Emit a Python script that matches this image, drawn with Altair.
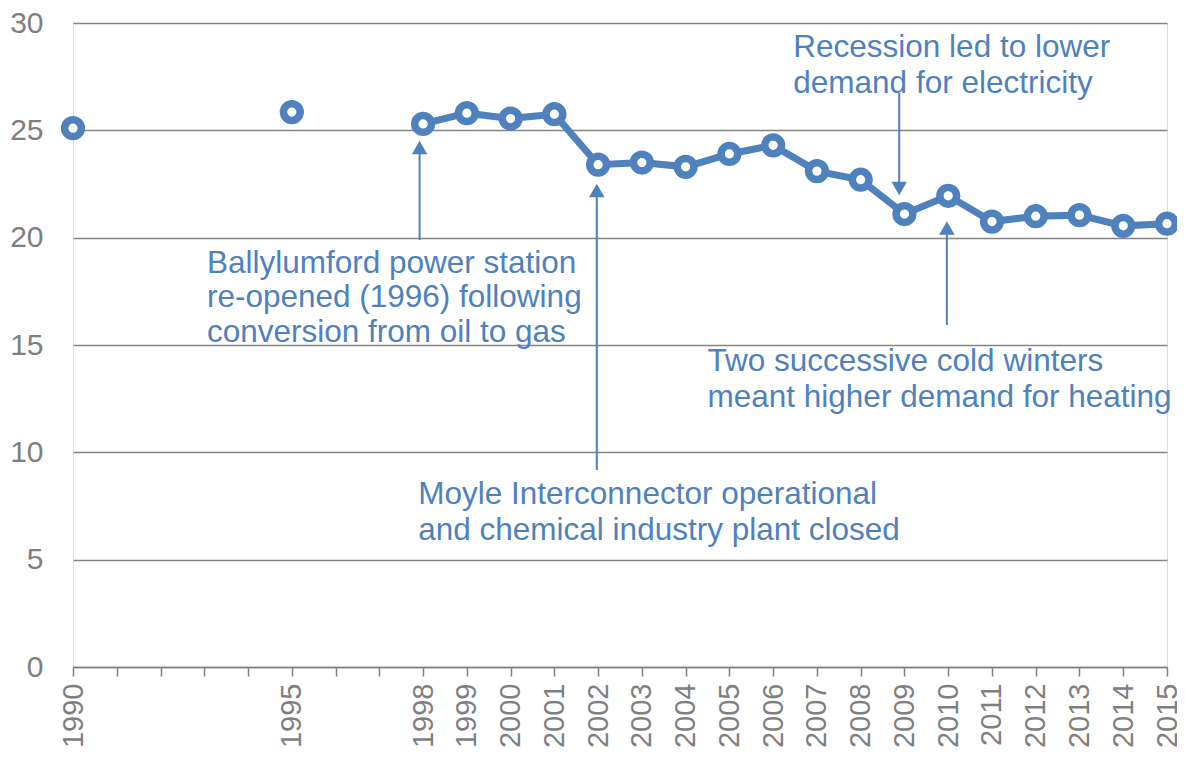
import altair as alt
import pandas as pd

years = [1990, 1995, 1998, 1999, 2000, 2001, 2002, 2003, 2004, 2005, 2006,
         2007, 2008, 2009, 2010, 2011, 2012, 2013, 2014, 2015]
values = [25.1, 25.85, 25.3, 25.8, 25.55, 25.75, 23.4, 23.5, 23.3, 23.9, 24.3,
          23.1, 22.7, 21.1, 21.95, 20.75, 21.0, 21.05, 20.55, 20.65]
labelled_years = [1990, 1995] + list(range(1998, 2016))
all_years = list(range(1990, 2016))
y_ticks = [0, 5, 10, 15, 20, 25, 30]

# annotation texts (one row per line) with anchor in data coordinates
note_lines = [
    "Ballylumford power station", "re-opened (1996) following", "conversion from oil to gas",
    "Moyle Interconnector operational", "and chemical industry plant closed",
    "Recession led to lower", "demand for electricity",
    "Two successive cold winters", "meant higher demand for heating",
]
note_x = [1993.06, 1993.06, 1993.06, 1997.89, 1997.89, 2006.46, 2006.46, 2004.5, 2004.5]
note_y = [18.37, 16.76, 15.13, 7.59, 5.92, 28.40, 26.72, 13.80, 12.13]

# arrows: shaft start/end, head position and direction
arrow_x = [1997.92, 2001.97, 2008.88, 2009.97]
arrow_y0 = [19.89, 9.18, 26.74, 15.93]
arrow_y1 = [24.0, 22.0, 22.4, 20.3]
head_y = [24.2, 22.2, 22.29, 20.45]
head_shape = ["triangle-up", "triangle-up", "triangle-down", "triangle-up"]

BLUE = "#4f81bd"
GREY = "#7f7f7f"
FONT = "Liberation Sans"

df = pd.DataFrame({"year": years, "value": values})
notes = pd.DataFrame({"text": note_lines, "x": note_x, "y": note_y})
arrows = pd.DataFrame({"x": arrow_x, "y0": arrow_y0, "y1": arrow_y1,
                       "hy": head_y, "shape": head_shape})

label_test = " || ".join(f"datum.value == {y}" for y in labelled_years)

xscale = alt.Scale(domain=[1990, 2015], nice=False, zero=False)
yscale = alt.Scale(domain=[0, 30], nice=False)

xenc = alt.X("year:Q", scale=xscale, axis=alt.Axis(
    title=None, values=all_years, format="d", labelAngle=-90,
    labelExpr=f"({label_test}) ? datum.label : ''",
    labelFontSize=29, labelColor=GREY, labelFont=FONT, labelPadding=7,
    labelOverlap=False, labelFlush=False, labelBound=False,
    tickColor=GREY, tickSize=9, tickWidth=1.5,
    domainColor=GREY, domainWidth=1.5, grid=False))
yenc = alt.Y("value:Q", scale=yscale, axis=alt.Axis(
    title=None, values=y_ticks, labelFontSize=30, labelColor=GREY, labelFont=FONT,
    labelPadding=30, ticks=False, tickSize=0, domain=False,
    grid=True, gridColor="#858585", gridWidth=1.6))

base = alt.Chart(df)
line = base.transform_filter("datum.year >= 1998").mark_line(
    color=BLUE, strokeWidth=7).encode(x=xenc, y=yenc)
points = base.mark_point(
    shape="circle", filled=True, fill="white", stroke=BLUE, strokeWidth=7.5,
    size=280, opacity=1).encode(x="year:Q", y="value:Q")

shafts = alt.Chart(arrows).mark_rule(color=BLUE, strokeWidth=2).encode(
    x="x:Q", y="y0:Q", y2="y1:Q")
heads = alt.Chart(arrows).mark_point(filled=True, color=BLUE, size=240, opacity=1).encode(
    x="x:Q", y="hy:Q",
    shape=alt.Shape("shape:N", scale=None, legend=None))

texts = alt.Chart(notes).mark_text(
    align="left", baseline="alphabetic", fontSize=31.5, font=FONT, color=BLUE).encode(
    x="x:Q", y="y:Q", text="text:N")

chart = alt.layer(line, points, shafts, heads, texts).properties(
    width=1094, height=644,
    autosize=alt.AutoSizeParams(type="none"),
    padding={"left": 65, "top": 15, "right": 10, "bottom": 83},
).configure_view(strokeWidth=0).configure(background="white")

chart.save("out.html", embed_options={"renderer": "svg", "actions": False})
